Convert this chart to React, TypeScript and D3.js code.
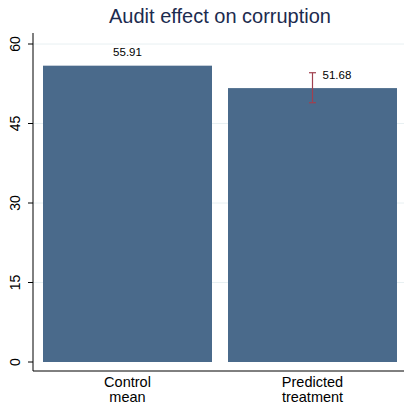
import React from "react";
import * as d3 from "d3";

const categories = [["Control", "mean"], ["Predicted", "treatment"]];
const values = [55.91, 51.68];
const ciLow = [null, 48.92];
const ciHigh = [null, 54.58];
const yTicks = [0, 15, 30, 45, 60];
const title = "Audit effect on corruption";

export default function App() {
  const W = 404, H = 403;
  const left = 33, right = 404, top = 33, bottom = 371;
  const y = d3.scaleLinear().domain([0, 60]).range([362, 44]);
  const x = d3.scaleBand().domain(["0", "1"]).range([43, 397]).paddingInner(0.0865).paddingOuter(0);
  const font = "'Liberation Sans', Arial, Helvetica, sans-serif";
  const barColor = "#4a6a8b";
  const errColor = "#a0404f";
  return (
    <svg width={W} height={H} style={{ position: "absolute", left: 0, top: 0, background: "#fff" }} fontFamily={font}>
      <rect x={0} y={0} width={W} height={H} fill="#fff" />
      <text x={220} y={23} textAnchor="middle" fontSize={20} fill="#1c2b4f">{title}</text>
      {yTicks.map((t) => (
        <g key={t}>
          {t > 0 && <line x1={left} x2={right} y1={y(t)} y2={y(t)} stroke="#e8f0f2" strokeWidth={1} />}
          <line x1={28} x2={left} y1={y(t)} y2={y(t)} stroke="#000" strokeWidth={1} />
          <text transform={`translate(20,${y(t)}) rotate(-90)`} textAnchor="middle" fontSize={14} fill="#000">{t}</text>
        </g>
      ))}
      {values.map((v, i) => {
        const bx = x(String(i))!;
        const bw = x.bandwidth();
        return (
          <g key={i}>
            <rect x={bx} y={y(v)} width={bw} height={y(0) - y(v)} fill={barColor} />
            {categories[i].map((s, j) => (
              <text key={j} x={bx + bw / 2} y={387 + j * 14.5} textAnchor="middle" fontSize={14.5} fill="#000">{s}</text>
            ))}
          </g>
        );
      })}
      {values.map((v, i) => {
        const bx = x(String(i))!;
        const cx = bx + x.bandwidth() / 2;
        const lo = ciLow[i], hi = ciHigh[i];
        if (lo == null || hi == null) {
          return <text key={i} x={cx} y={y(v) - 10} textAnchor="middle" fontSize={11.5} fill="#000">{v.toFixed(2)}</text>;
        }
        return (
          <g key={i} stroke={errColor} strokeWidth={1.2}>
            <line x1={cx} x2={cx} y1={y(hi)} y2={y(lo)} />
            <line x1={cx - 3.5} x2={cx + 3.5} y1={y(hi)} y2={y(hi)} />
            <line x1={cx - 3.5} x2={cx + 3.5} y1={y(lo)} y2={y(lo)} />
            <text x={cx + 10} y={y(hi) + 6} fontSize={11.5} fill="#000" stroke="none">{v.toFixed(2)}</text>
          </g>
        );
      })}
      <line x1={left} x2={left} y1={top} y2={bottom} stroke="#000" strokeWidth={1} />
      <line x1={left} x2={right} y1={bottom} y2={bottom} stroke="#000" strokeWidth={1} />
    </svg>
  );
}
